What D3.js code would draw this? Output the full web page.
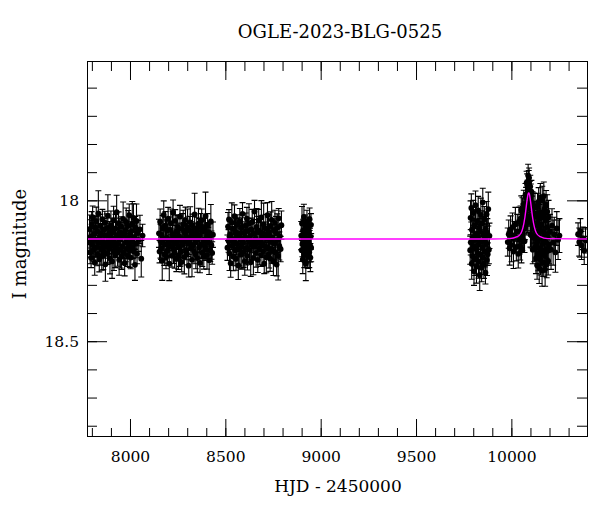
<!DOCTYPE html>
<html>
<head>
<meta charset="utf-8">
<script src="https://cdn.jsdelivr.net/npm/d3@7"></script>
<style>
  body { margin: 0; background: #fff; }
  text { font-family: "DejaVu Serif", serif; }
</style>
</head>
<body>
<div id="chart"></div>
<script>
// ---- photometry, season by season (HJD - 2450000, I mag, error) ----
const s1Hjd = [7786,7788,7791,7794,7796,7799,7802,7804,7807,7810,
  7812,7815,7818,7820,7823,7826,7828,7831,7834,7836,
  7839,7842,7844,7847,7850,7852,7855,7858,7860,7863,
  7866,7868,7871,7874,7876,7879,7882,7884,7887,7890,
  7892,7895,7898,7900,7903,7906,7908,7911,7914,7916,
  7919,7922,7924,7927,7930,7932,7935,7938,7940,7943,
  7946,7948,7951,7954,7956,7959,7962,7964,7967,7970,
  7972,7975,7978,7980,7983,7986,7988,7991,7994,7996,
  7999,8002,8004,8007,8010,8012,8015,8018,8020,8023,
  8026,8028,8031,8034,8037,8041,8046,8052,8059,8066];
const s1Mag = [18.149,18.102,18.185,18.129,18.204,18.085,18.158,18.060,18.142,18.176,
  18.119,18.221,18.096,18.140,18.074,18.166,18.192,18.111,18.046,18.151,
  18.209,18.133,18.090,18.170,18.122,18.198,18.067,18.146,18.181,18.104,
  18.155,18.079,18.227,18.126,18.163,18.098,18.188,18.055,18.144,18.173,
  18.115,18.206,18.131,18.088,18.161,18.217,18.108,18.150,18.071,18.179,
  18.135,18.194,18.100,18.168,18.042,18.153,18.184,18.124,18.081,18.211,
  18.113,18.139,18.175,18.093,18.200,18.128,18.164,18.066,18.187,18.118,
  18.223,18.106,18.148,18.077,18.172,18.134,18.195,18.091,18.157,18.053,
  18.178,18.121,18.203,18.110,18.145,18.084,18.167,18.062,18.182,18.130,
  18.229,18.097,18.154,18.073,18.190,18.116,18.141,18.103,18.207,18.125];
const s1Err = [0.04,0.05,0.04,0.06,0.035,0.045,0.05,0.04,0.07,0.04,
  0.05,0.045,0.04,0.06,0.05,0.035,0.04,0.055,0.08,0.04,
  0.045,0.05,0.04,0.06,0.04,0.05,0.035,0.045,0.065,0.04,
  0.05,0.04,0.06,0.045,0.035,0.05,0.04,0.075,0.045,0.05,
  0.04,0.055,0.035,0.05,0.04,0.06,0.045,0.04,0.05,0.07,
  0.04,0.045,0.05,0.035,0.06,0.04,0.05,0.045,0.04,0.055,
  0.05,0.04,0.065,0.035,0.045,0.05,0.04,0.06,0.04,0.05,
  0.045,0.04,0.07,0.05,0.035,0.045,0.04,0.055,0.05,0.04,
  0.06,0.045,0.04,0.05,0.035,0.08,0.04,0.05,0.045,0.04,
  0.055,0.04,0.05,0.06,0.035,0.045,0.04,0.05,0.065,0.04];

const s2Hjd = [8152,8155,8158,8160,8163,8166,8169,8172,8175,8177,
  8180,8183,8186,8189,8192,8194,8197,8200,8203,8206,
  8209,8211,8214,8217,8220,8223,8226,8228,8231,8234,
  8237,8240,8243,8245,8248,8251,8254,8257,8260,8262,
  8265,8268,8271,8274,8277,8279,8282,8285,8288,8291,
  8294,8296,8299,8302,8305,8308,8311,8313,8316,8319,
  8322,8325,8328,8330,8333,8336,8339,8342,8345,8347,
  8350,8353,8356,8359,8362,8364,8367,8370,8373,8376,
  8379,8381,8384,8387,8390,8393,8396,8398,8401,8404,
  8407,8410,8413,8415,8418,8421,8424,8427,8431,8435];
const s2Mag = [18.117,18.182,18.076,18.145,18.170,18.123,18.214,18.099,18.139,18.052,
  18.191,18.156,18.090,18.203,18.132,18.108,18.178,18.065,18.149,18.225,
  18.104,18.162,18.081,18.143,18.197,18.119,18.044,18.174,18.128,18.186,
  18.073,18.152,18.208,18.111,18.140,18.094,18.195,18.126,18.165,18.058,
  18.183,18.135,18.219,18.102,18.158,18.085,18.147,18.201,18.113,18.069,
  18.176,18.130,18.189,18.096,18.154,18.232,18.107,18.142,18.078,18.171,
  18.121,18.211,18.089,18.160,18.133,18.180,18.050,18.150,18.193,18.116,
  18.100,18.205,18.138,18.083,18.167,18.125,18.222,18.092,18.156,18.071,
  18.185,18.110,18.144,18.199,18.098,18.163,18.056,18.173,18.136,18.194,
  18.087,18.151,18.114,18.213,18.129,18.177,18.075,18.159,18.187,18.122];
const s2Err = [0.05,0.04,0.045,0.06,0.04,0.035,0.07,0.045,0.04,0.05,
  0.04,0.055,0.05,0.04,0.065,0.035,0.045,0.04,0.05,0.06,
  0.045,0.04,0.05,0.035,0.04,0.08,0.045,0.05,0.04,0.055,
  0.04,0.05,0.045,0.06,0.035,0.04,0.05,0.045,0.07,0.04,
  0.05,0.04,0.035,0.055,0.045,0.05,0.04,0.06,0.04,0.045,
  0.035,0.05,0.04,0.065,0.045,0.04,0.05,0.035,0.055,0.04,
  0.045,0.06,0.04,0.05,0.04,0.045,0.075,0.04,0.05,0.035,
  0.04,0.05,0.045,0.055,0.04,0.06,0.035,0.045,0.05,0.04,
  0.05,0.04,0.06,0.045,0.035,0.05,0.085,0.04,0.045,0.05,
  0.04,0.055,0.035,0.05,0.045,0.04,0.06,0.05,0.04,0.045];

const s3Hjd = [8511,8514,8517,8519,8522,8525,8528,8531,8534,8536,
  8539,8542,8545,8548,8551,8553,8556,8559,8562,8565,
  8568,8570,8573,8576,8579,8582,8585,8587,8590,8593,
  8596,8599,8602,8604,8607,8610,8613,8616,8619,8621,
  8624,8627,8630,8633,8636,8638,8641,8644,8647,8650,
  8653,8655,8658,8661,8664,8667,8670,8672,8675,8678,
  8681,8684,8687,8689,8692,8695,8698,8701,8704,8706,
  8709,8712,8715,8718,8721,8723,8726,8729,8732,8735,
  8738,8740,8743,8746,8749,8752,8755,8757,8760,8763,
  8766,8769,8772,8774,8777,8780,8783,8786,8790,8794];
const s3Mag = [18.168,18.093,18.144,18.068,18.189,18.120,18.223,18.134,18.079,18.161,
  18.101,18.200,18.147,18.056,18.177,18.112,18.208,18.129,18.155,18.086,
  18.231,18.123,18.172,18.074,18.139,18.193,18.097,18.164,18.048,18.150,
  18.183,18.116,18.216,18.131,18.090,18.169,18.065,18.197,18.109,18.141,
  18.082,18.176,18.126,18.220,18.103,18.158,18.077,18.146,18.204,18.118,
  18.040,18.165,18.135,18.187,18.094,18.152,18.211,18.107,18.072,18.174,
  18.143,18.114,18.195,18.061,18.156,18.128,18.181,18.085,18.225,18.122,
  18.163,18.100,18.202,18.136,18.053,18.170,18.111,18.190,18.125,18.207,
  18.091,18.148,18.069,18.178,18.133,18.217,18.106,18.154,18.080,18.185,
  18.117,18.228,18.098,18.140,18.198,18.064,18.162,18.127,18.173,18.088];
const s3Err = [0.045,0.05,0.04,0.035,0.06,0.045,0.05,0.04,0.07,0.04,
  0.035,0.05,0.045,0.04,0.055,0.05,0.04,0.065,0.045,0.035,
  0.05,0.04,0.06,0.045,0.04,0.05,0.035,0.08,0.04,0.045,
  0.055,0.04,0.05,0.035,0.045,0.06,0.04,0.05,0.045,0.04,
  0.07,0.035,0.045,0.05,0.04,0.055,0.045,0.04,0.06,0.05,
  0.04,0.045,0.035,0.05,0.065,0.04,0.045,0.05,0.04,0.055,
  0.035,0.05,0.04,0.06,0.045,0.04,0.05,0.075,0.035,0.045,
  0.04,0.05,0.055,0.04,0.045,0.035,0.06,0.05,0.04,0.045,
  0.05,0.04,0.065,0.045,0.035,0.05,0.04,0.055,0.045,0.04,
  0.06,0.04,0.05,0.045,0.085,0.035,0.05,0.04,0.045,0.05];

const s4Hjd = [8898,8900,8902,8904,8906,8908,8910,8912,8914,8916,8918,8920,8922,8924,
  8926,8928,8930,8932,8934,8936,8938,8940,8942,8944,8946,8947,8949,8950];
const s4Mag = [18.125,18.177,18.082,18.155,18.210,18.107,18.142,18.059,18.189,18.117,18.165,18.092,18.225,18.134,
  18.172,18.075,18.151,18.197,18.099,18.146,18.112,18.184,18.067,18.159,18.203,18.129,18.087,18.168];
const s4Err = [0.05,0.04,0.06,0.045,0.05,0.04,0.07,0.045,0.05,0.04,0.055,0.04,0.06,0.045,
  0.05,0.04,0.065,0.045,0.04,0.05,0.045,0.055,0.04,0.06,0.05,0.045,0.04,0.05];

const s5Hjd = [9784,9786,9787,9790,9792,9793,9796,9798,9800,9802,
  9804,9805,9808,9810,9812,9814,9816,9817,9820,9822,
  9824,9826,9828,9829,9832,9834,9836,9838,9840,9841,
  9844,9846,9848,9850,9852,9853,9856,9858,9860,9862,
  9864,9866,9868,9870,9872,9874,9876,9879,9882,9885];
const s5Mag = [18.177,18.062,18.149,18.027,18.225,18.104,18.198,18.132,18.045,18.163,
  18.252,18.089,18.140,18.207,18.017,18.172,18.119,18.234,18.074,18.187,
  18.129,18.036,18.216,18.156,18.097,18.265,18.110,18.194,18.052,18.145,
  18.239,18.082,18.168,18.007,18.203,18.123,18.227,18.067,18.181,18.135,
  18.257,18.101,18.152,18.049,18.212,18.115,18.191,18.031,18.175,18.126];
const s5Err = [0.05,0.06,0.045,0.05,0.055,0.04,0.05,0.06,0.045,0.05,
  0.05,0.055,0.04,0.06,0.05,0.045,0.05,0.06,0.04,0.055,
  0.045,0.05,0.06,0.04,0.05,0.055,0.045,0.05,0.06,0.04,
  0.05,0.045,0.055,0.05,0.06,0.04,0.05,0.045,0.055,0.05,
  0.04,0.06,0.05,0.045,0.055,0.05,0.04,0.06,0.05,0.045];

// 2023 season: before the event, across the bump, after it, and the tail
const s6aHjd = [9981,9986,9991,9996,10001,10006,10011,10016,10021,10026,10031,10036,10040,10043];
const s6aMag = [18.148,18.120,18.170,18.105,18.158,18.095,18.182,18.125,18.085,18.165,18.110,18.190,18.075,18.140];
const s6aErr = [0.05,0.05,0.06,0.05,0.06,0.05,0.06,0.05,0.06,0.05,0.06,0.05,0.05,0.05];

const s6bHjd = [10046,10048,10050,10052,10053,10055,10057,10058,10060,10062,
  10063,10065,10066,10068,10069,10071,10072,10074,10075,10077,
  10078,10080,10081,10083,10084,10086,10087,10088,10090,10091,
  10092,10093,10095,10096,10097,10099,10100,10102,10103,10105,
  10106,10108,10109,10111,10112,10114,10115,10117,10118,10120,
  10121,10123,10124,10126];
const s6bMag = [18.162,18.065,18.127,18.034,18.177,18.083,18.133,18.041,18.103,18.058,
  18.145,18.014,18.100,18.028,18.145,18.045,18.095,17.980,18.050,17.989,
  18.083,17.937,18.031,17.946,18.077,17.963,18.025,17.912,17.989,17.934,
  18.074,17.920,18.010,17.973,18.057,17.951,18.121,17.982,18.068,17.969,
  18.124,18.025,18.085,18.010,18.175,18.048,18.132,18.019,18.102,18.173,
  18.056,18.129,18.026,18.165];
const s6bErr = [0.05,0.045,0.04,0.05,0.045,0.04,0.045,0.05,0.04,0.045,
  0.04,0.05,0.04,0.045,0.04,0.04,0.045,0.04,0.04,0.035,
  0.04,0.04,0.035,0.04,0.04,0.035,0.04,0.04,0.035,0.04,
  0.04,0.035,0.04,0.04,0.035,0.04,0.045,0.04,0.04,0.04,
  0.045,0.04,0.045,0.04,0.05,0.045,0.04,0.045,0.05,0.045,
  0.05,0.045,0.05,0.05];

const s6cHjd = [10128,10129,10131,10132,10134,10135,10137,10138,10140,10141,
  10143,10144,10146,10147,10149,10150,10152,10153,10155,10156,
  10158,10159,10161,10162,10164,10165,10167,10168,10170,10171,
  10173,10174,10176,10177,10179,10180,10182,10183,10185,10186,
  10188,10189,10191,10193,10195,10197];
const s6cMag = [18.090,18.205,18.050,18.160,18.112,18.230,18.020,18.145,18.080,18.190,
  18.005,18.125,18.240,18.065,18.170,18.100,17.990,18.210,18.135,18.045,
  18.185,18.085,18.250,18.000,18.155,18.110,18.220,18.060,17.985,18.140,
  18.195,18.030,18.120,18.245,18.070,18.175,18.015,18.150,18.225,18.095,
  18.040,18.180,18.130,18.215,18.060,18.160];
const s6cErr = [0.05,0.055,0.045,0.05,0.06,0.05,0.045,0.055,0.05,0.06,
  0.05,0.045,0.055,0.05,0.06,0.045,0.05,0.055,0.05,0.06,
  0.045,0.05,0.055,0.05,0.045,0.06,0.05,0.055,0.05,0.045,
  0.06,0.05,0.055,0.06,0.045,0.06,0.05,0.055,0.05,0.045,
  0.06,0.05,0.055,0.05,0.06,0.065];

const s6dHjd = [10202,10208,10213,10219,10225,10231,10238,10245,10252];
const s6dMag = [18.110,18.175,18.090,18.150,18.120,18.185,18.100,18.140,18.125];
const s6dErr = [0.06,0.07,0.06,0.08,0.06,0.07,0.06,0.07,0.06];

const s7Hjd = [10350,10356,10362,10368,10375,10382,10389];
const s7Mag = [18.120,18.148,18.110,18.160,18.135,18.178,18.142];
const s7Err = [0.04,0.05,0.045,0.05,0.04,0.05,0.045];

// microlensing model (magenta)
const modelHjd = [7775,9900,9990,10031,10051,10061,10071,10076,10081,10086,10088,10091,
  10094,10096,10101,10106,10111,10121,10131,10151,10191,10397];
const modelMag = [18.137,18.137,18.136,18.129,18.116,18.096,18.060,18.034,18.006,17.983,17.977,17.974,
  17.977,17.983,18.006,18.034,18.060,18.096,18.116,18.129,18.136,18.137];

// axis ticks
const xMajor = [8000, 8500, 9000, 9500, 10000];
const xMinor = [7800,7900,8000,8100,8200,8300,8400,8500,8600,8700,8800,8900,9000,
  9100,9200,9300,9400,9500,9600,9700,9800,9900,10000,10100,10200,10300];
const yMajor = [18, 18.5];
const yMinor = [17.6,17.7,17.8,17.9,18,18.1,18.2,18.3,18.4,18.5,18.6,18.7,18.8];

// ---- layout ----
const width = 600;
const height = 512;
const margin = {top: 62, right: 13, bottom: 75, left: 87};
const plotW = width - margin.left - margin.right;
const plotH = height - margin.top - margin.bottom;

const svg = d3.select("#chart")
    .append("svg")
    .attr("width", width)
    .attr("height", height);

const xScale = d3.scaleLinear()
    .domain([7774.5, 10396.6])
    .range([margin.left, margin.left + plotW]);

// magnitudes: brighter up
const yScale = d3.scaleLinear()
    .domain([17.509, 18.84])
    .range([margin.top, margin.top + plotH]);

// build the point table
const seasons = [
  [s1Hjd, s1Mag, s1Err], [s2Hjd, s2Mag, s2Err], [s3Hjd, s3Mag, s3Err],
  [s4Hjd, s4Mag, s4Err], [s5Hjd, s5Mag, s5Err],
  [s6aHjd, s6aMag, s6aErr], [s6bHjd, s6bMag, s6bErr], [s6cHjd, s6cMag, s6cErr], [s6dHjd, s6dMag, s6dErr],
  [s7Hjd, s7Mag, s7Err]
];
const obs = [];
seasons.forEach(([t, m, e]) => {
  const n = Math.min(t.length, m.length, e.length);
  for (let i = 0; i < n; i++) obs.push({t: t[i], m: m[i], e: e[i]});
});

svg.append("clipPath")
    .attr("id", "plotclip")
  .append("rect")
    .attr("x", margin.left)
    .attr("y", margin.top)
    .attr("width", plotW)
    .attr("height", plotH);

const plot = svg.append("g").attr("clip-path", "url(#plotclip)");

// error bars
const cap = 3;
plot.append("g")
    .selectAll("path")
    .data(obs)
    .join("path")
    .attr("fill", "none")
    .attr("stroke", "#000")
    .attr("stroke-width", 1.1)
    .attr("d", d => {
      const x = xScale(d.t), y1 = yScale(d.m - d.e), y2 = yScale(d.m + d.e);
      return `M${x},${y1}V${y2}M${x - cap},${y1}H${x + cap}M${x - cap},${y2}H${x + cap}`;
    });

// points
plot.append("g")
    .selectAll("circle")
    .data(obs)
    .join("circle")
    .attr("cx", d => xScale(d.t))
    .attr("cy", d => yScale(d.m))
    .attr("r", 2.9)
    .attr("fill", "#000");

// model curve
const model = modelHjd.map((t, i) => ({t, m: modelMag[i]}));
plot.append("path")
    .datum(model)
    .attr("fill", "none")
    .attr("stroke", "#ff00ff")
    .attr("stroke-width", 1.4)
    .attr("d", d3.line().x(d => xScale(d.t)).y(d => yScale(d.m)).curve(d3.curveMonotoneX));

// ---- axes: ticks point inward on all four sides ----
function strip(g) { g.select(".domain").remove(); }

svg.append("g")
    .attr("transform", `translate(0,${margin.top + plotH})`)
    .call(d3.axisBottom(xScale).tickValues(xMinor).tickSize(-9).tickFormat(""))
    .call(strip);
svg.append("g")
    .attr("transform", `translate(0,${margin.top + plotH})`)
    .call(d3.axisBottom(xScale).tickValues(xMajor).tickSize(-18).tickPadding(14).tickFormat(d3.format("d")))
    .call(strip)
    .selectAll("text").style("font-size", "15.5px").style("font-family", "DejaVu Serif");

svg.append("g")
    .attr("transform", `translate(0,${margin.top})`)
    .call(d3.axisTop(xScale).tickValues(xMinor).tickSize(-9).tickFormat(""))
    .call(strip);
svg.append("g")
    .attr("transform", `translate(0,${margin.top})`)
    .call(d3.axisTop(xScale).tickValues(xMajor).tickSize(-18).tickFormat(""))
    .call(strip);

svg.append("g")
    .attr("transform", `translate(${margin.left},0)`)
    .call(d3.axisLeft(yScale).tickValues(yMinor).tickSize(-10).tickFormat(""))
    .call(strip);
svg.append("g")
    .attr("transform", `translate(${margin.left},0)`)
    .call(d3.axisLeft(yScale).tickValues(yMajor).tickSize(-20).tickPadding(8).tickFormat(d3.format("")))
    .call(strip)
    .selectAll("text").style("font-size", "15.5px").style("font-family", "DejaVu Serif");

svg.append("g")
    .attr("transform", `translate(${margin.left + plotW},0)`)
    .call(d3.axisRight(yScale).tickValues(yMinor).tickSize(-10).tickFormat(""))
    .call(strip);
svg.append("g")
    .attr("transform", `translate(${margin.left + plotW},0)`)
    .call(d3.axisRight(yScale).tickValues(yMajor).tickSize(-20).tickFormat(""))
    .call(strip);

// frame
svg.append("rect")
    .attr("x", margin.left + 0.5)
    .attr("y", margin.top - 0.5)
    .attr("width", plotW)
    .attr("height", plotH)
    .attr("fill", "none")
    .attr("stroke", "#000")
    .attr("stroke-width", 1);

// titles
svg.append("text")
    .attr("x", 340)
    .attr("y", 38)
    .attr("text-anchor", "middle")
    .style("font-size", "18px")
    .text("OGLE-2023-BLG-0525");

svg.append("text")
    .attr("x", 338)
    .attr("y", 492)
    .attr("text-anchor", "middle")
    .style("font-size", "17px")
    .text("HJD - 2450000");

svg.append("text")
    .attr("transform", "translate(26,244) rotate(-90)")
    .attr("text-anchor", "middle")
    .style("font-size", "18px")
    .text("I magnitude");
</script>
</body>
</html>
